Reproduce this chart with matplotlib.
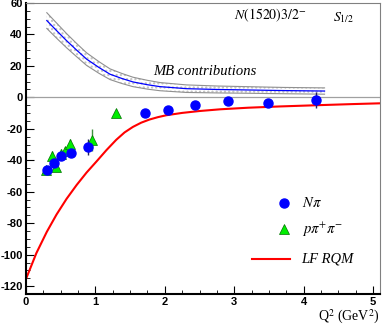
import matplotlib
matplotlib.use("Agg")
import matplotlib.pyplot as plt
import numpy as np

plt.rcParams['axes.unicode_minus']=False

# N pi data
npi_q2=[0.30,0.40,0.50,0.65,0.90,1.72,2.05,2.44,2.91,3.49,4.17]
npi_a=[-46.2,-41.5,-37.5,-35.1,-31.7,-10.2,-7.9,-4.7,-2.6,-3.8,-1.7]
npi_err=[2.0,2.0,2.5,2.5,5.0,1.5,2.0,1.5,1.5,2.5,5.0]

# p pi+ pi- data
ppp_q2=[0.29,0.37,0.43,0.50,0.56,0.64,0.945,1.30]
ppp_a=[-46.0,-37.0,-44.0,-36.0,-34.3,-29.4,-27.3,-10.2]
ppp_err=[2.0,3.0,3.0,3.0,3.0,3.0,7.0,1.0]

lf_q2=[0.0,0.15,0.3,0.44,0.585,0.73,0.873,1.017,1.16,1.3,1.42,1.54,1.66,1.78,1.9,2.02,2.25,2.5,2.8,3.2,3.65,4.2,4.7,5.1]
lf_a=[-115.5,-99,-85.5,-74.5,-64.5,-55.7,-47.8,-40.7,-33.5,-27.0,-22.3,-18.8,-16.1,-14.1,-12.6,-11.4,-9.9,-8.7,-7.6,-6.6,-5.8,-5.0,-4.3,-3.8]

# MB contributions with band
mb_q2=[0.30,0.45,0.585,0.73,0.873,1.05,1.21,1.38,1.54,1.75,1.93,2.31,2.75,3.17,3.7,4.3]
mb_a=[48.8,42.0,36.0,30.0,24.3,19.0,14.7,12.0,9.8,8.0,6.8,5.5,5.0,4.7,4.3,4.0]
mb_err=[5.0,4.8,4.5,4.2,4.0,3.7,3.4,3.2,3.0,2.8,2.6,2.4,2.2,2.1,2.0,2.0]

fig=plt.figure(figsize=(3.82,3.27),dpi=100)
ax=fig.add_axes([0.068,0.101,0.927,0.890])

x=np.array(mb_q2); y=np.array(mb_a); e=np.array(mb_err)
ax.fill_between(x,y-e,y+e,facecolor='white',edgecolor='#c0c0c0',hatch='....',linewidth=0)
ax.plot(x,y+e,color='#909090',lw=0.8)
ax.plot(x,y-e,color='#909090',lw=0.8)
ax.plot(x,y,color='blue',lw=0.9)

ax.axhline(0,color='#a0a0a0',lw=0.9)

ax.plot(lf_q2,lf_a,color='red',lw=1.5)

ax.errorbar(ppp_q2,ppp_a,yerr=ppp_err,fmt='^',mfc='#00ee00',mec='#007000',mew=0.5,ms=6.5,ecolor='#409040',elinewidth=1,capsize=0)
ax.errorbar(npi_q2,npi_a,yerr=npi_err,fmt='o',mfc='blue',mec='blue',ms=6.5,ecolor='#202060',elinewidth=1,capsize=0)

ax.set_xlim(0,5.1)
ax.set_ylim(-125,60)
ax.set_xticks([0,1,2,3,4,5])
ax.set_yticks(np.arange(-120,61,20))
ax.set_xticks(np.arange(0,5.1,0.25),minor=True)
ax.set_yticks(np.arange(-125,61,5),minor=True)
ax.tick_params(which='both',direction='in',top=False,right=False,labelsize=8,pad=2.5)
ax.tick_params(which='major',length=6)
ax.tick_params(which='minor',length=3)
for lab in ax.get_xticklabels()+ax.get_yticklabels():
    lab.set_fontweight('bold')
    lab.set_fontfamily('Liberation Sans')
for s in ['left','bottom']:
    ax.spines[s].set_linewidth(1.5)
for s in ['top','right']:
    ax.spines[s].set_color('#808080')

serif={'family':'Liberation Serif','style':'italic'}
ax.text(3.0,52,r'$N(1520)3/2^{-}$',fontsize=10,ha='left',va='center',math_fontfamily='stix')
ax.text(4.42,51,r'$S_{1/2}$',fontsize=10,ha='left',va='center',math_fontfamily='stix')
ax.text(1.83,16.5,'MB contributions',fontsize=10.5,ha='left',va='center',**serif)

ax.plot([3.71],[-67],'o',mfc='blue',mec='blue',ms=6.5)
ax.plot([3.71],[-83.5],'^',mfc='#00ee00',mec='#007000',mew=0.5,ms=6.5)
ax.plot([3.26,3.8],[-103,-103],color='red',lw=1.5)
ax.text(3.97,-67,r'$N\pi$',fontsize=10.5,va='center',math_fontfamily='stix')
ax.text(3.97,-84,r'$p\pi^{+}\pi^{-}$',fontsize=10.5,va='center',math_fontfamily='stix')
ax.text(3.97,-103,'LF RQM',fontsize=10.5,va='center',**serif)

fig.text(0.995,0.03,r'Q$^2$ (GeV$^2$)',fontsize=10,fontfamily='Liberation Serif',ha='right',va='center',math_fontfamily='stix')

fig.savefig('out.png',dpi=100)
